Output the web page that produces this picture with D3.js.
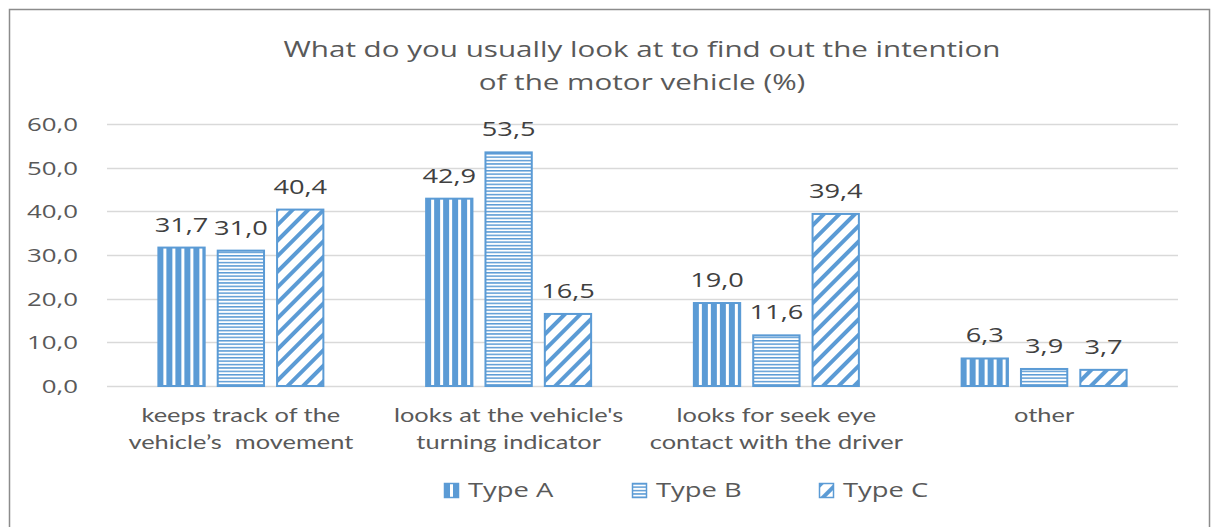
<!DOCTYPE html>
<html>
<head>
<meta charset="utf-8">
<script src="https://cdn.jsdelivr.net/npm/d3@7"></script>
<style>
  body { margin: 0; background: #fff; }
  svg { display: block; }
  .clabel { white-space: pre; }
</style>
</head>
<body>
<svg id="chart" width="1218" height="527"></svg>
<script>
// chart data
var categories = [
  ["keeps track of the", "vehicle\u2019s  movement"],
  ["looks at the vehicle's", "turning indicator"],
  ["looks for seek eye", "contact with the driver"],
  ["other"]
];
var seriesNames = ["Type A", "Type B", "Type C"];
var typeA = [31.7, 42.9, 19.0, 6.3];
var typeB = [31.0, 53.5, 11.6, 3.9];
var typeC = [40.4, 16.5, 39.4, 3.7];
var yTicks = [0, 10, 20, 30, 40, 50, 60];
var titleLines = ["What do you usually look at to find out the intention", "of the motor vehicle (%)"];

var seriesValues = [typeA, typeB, typeC];
var patternIds = ["patA", "patB", "patC"];
var blue = "#5b9bd5";
var gray = "#595959";

var svg = d3.select("#chart");

// frame
svg.append("rect")
  .attr("x", 9.5).attr("y", 9.5)
  .attr("width", 1200).attr("height", 540)
  .attr("fill", "#fff")
  .attr("stroke", "#8c8c8c")
  .attr("stroke-width", 1.5);

// patterns
var defs = svg.append("defs");

var pA = defs.append("pattern").attr("id", "patA")
  .attr("patternUnits", "userSpaceOnUse").attr("width", 9).attr("height", 9);
pA.append("rect").attr("width", 9).attr("height", 9).attr("fill", blue);
pA.append("rect").attr("x", 6).attr("width", 3).attr("height", 9).attr("fill", "#fff");

var pB = defs.append("pattern").attr("id", "patB")
  .attr("patternUnits", "userSpaceOnUse").attr("width", 4).attr("height", 3.4);
pB.append("rect").attr("width", 4).attr("height", 3.4).attr("fill", "#fff");
pB.append("rect").attr("width", 4).attr("height", 1.5).attr("fill", blue);

var pC = defs.append("pattern").attr("id", "patC")
  .attr("patternUnits", "userSpaceOnUse").attr("width", 11).attr("height", 11)
  .attr("patternTransform", "rotate(45)");
pC.append("rect").attr("width", 11).attr("height", 11).attr("fill", "#fff");
pC.append("rect").attr("width", 4).attr("height", 11).attr("fill", blue);

// scales
var x = d3.scaleBand()
  .domain(d3.range(categories.length))
  .range([107, 1178]);

var groupW = 167;
var xSub = d3.scaleBand()
  .domain(d3.range(seriesNames.length))
  .range([0, groupW])
  .paddingInner(0.186);

var y = d3.scaleLinear().domain([0, 60]).range([386, 124]);

// horizontally stretched text helper (reference is widened)
function stretchText(sel, sx) {
  sel.each(function() {
    var t = d3.select(this);
    var tx = +t.attr("x"), ty = +t.attr("y");
    t.attr("x", 0).attr("y", 0)
      .attr("transform", "translate(" + tx + "," + ty + ") scale(" + sx + ",1)");
  });
}

// gridlines
svg.append("g")
  .selectAll("line")
  .data(yTicks)
  .enter()
  .append("line")
  .attr("x1", 107).attr("x2", 1178)
  .attr("y1", function(d) { return Math.round(y(d)) + 0.5; })
  .attr("y2", function(d) { return Math.round(y(d)) + 0.5; })
  .attr("stroke", "#d9d9d9")
  .attr("stroke-width", 1.5);

// y axis labels
var yAxis = d3.axisLeft(y)
  .tickValues(yTicks)
  .tickSize(0)
  .tickPadding(0)
  .tickFormat(function(d) { return d3.format(".1f")(d).replace(".", ","); });

var yg = svg.append("g").attr("transform", "translate(78,0)").call(yAxis);
yg.select(".domain").remove();
yg.selectAll("text")
  .attr("fill", gray)
  .attr("font-family", "Open Sans")
  .attr("font-size", 19)
  .attr("dy", "0.35em")
  .attr("x", 0)
  .attr("transform", "scale(1.36,1)")
  .attr("text-anchor", "end");

// bars
var groups = svg.append("g")
  .selectAll("g")
  .data(categories)
  .enter()
  .append("g")
  .attr("transform", function(d, i) {
    return "translate(" + (x(i) + x.bandwidth() / 2 - groupW / 2) + ",0)";
  });

groups.each(function(c, ci) {
  var g = d3.select(this);
  seriesValues.forEach(function(vals, si) {
    var v = vals[ci];
    g.append("rect")
      .attr("x", xSub(si) + 1)
      .attr("y", y(v))
      .attr("width", xSub.bandwidth() - 2)
      .attr("height", y(0) - y(v))
      .attr("fill", "url(#" + patternIds[si] + ")")
      .attr("stroke", blue)
      .attr("stroke-width", 2);

    g.append("text")
      .attr("class", "vlabel")
      .attr("x", xSub(si) + xSub.bandwidth() / 2)
      .attr("y", y(v) - 16)
      .attr("text-anchor", "middle")
      .attr("fill", "#404040")
      .attr("font-family", "Open Sans")
      .attr("font-size", 20)
      .text(d3.format(".1f")(v).replace(".", ","));
  });
});
stretchText(svg.selectAll(".vlabel"), 1.36);

// category labels
categories.forEach(function(lines, i) {
  lines.forEach(function(line, li) {
    svg.append("text")
      .attr("class", "clabel")
      .attr("x", x(i) + x.bandwidth() / 2)
      .attr("y", 422 + li * 27)
      .attr("text-anchor", "middle")
      .attr("fill", gray)
      .attr("font-family", "Lato")
      .attr("font-size", 20)
      .text(line);
  });
});
stretchText(svg.selectAll(".clabel"), 1.27);

// title
svg.selectAll(".title")
  .data(titleLines)
  .enter()
  .append("text")
  .attr("class", "title")
  .attr("x", 642)
  .attr("y", function(d, i) { return 57 + i * 33; })
  .attr("text-anchor", "middle")
  .attr("fill", gray)
  .attr("font-family", "Open Sans")
  .attr("font-size", 21)
  .text(function(d) { return d; });
stretchText(svg.selectAll(".title"), 1.41);

// legend
var legendX = [444, 632, 819];
var legend = svg.append("g")
  .selectAll("g")
  .data(seriesNames)
  .enter()
  .append("g")
  .attr("transform", function(d, i) { return "translate(" + legendX[i] + ",483)"; });

legend.append("rect")
  .attr("x", 0.5).attr("y", 0.5)
  .attr("width", 14).attr("height", 14)
  .attr("fill", function(d, i) { return "url(#" + patternIds[i] + ")"; })
  .attr("stroke", blue)
  .attr("stroke-width", 1.5);

legend.append("text")
  .attr("class", "ltext")
  .attr("x", 24)
  .attr("y", 14)
  .attr("fill", gray)
  .attr("font-family", "Open Sans")
  .attr("font-size", 20)
  .text(function(d) { return d; });
stretchText(svg.selectAll(".ltext"), 1.37);
</script>
</body>
</html>
